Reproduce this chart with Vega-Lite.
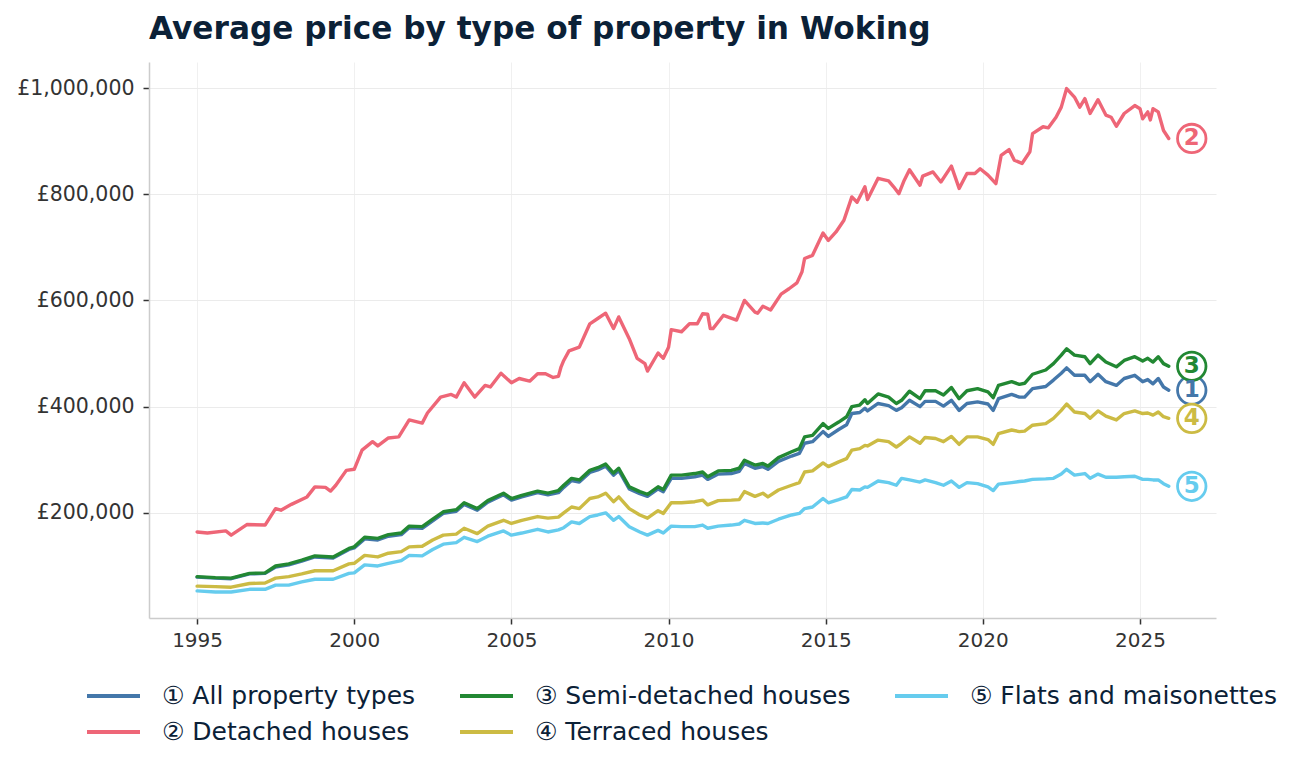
{
"$schema":"https://vega.github.io/schema/vega-lite/v6.json",
"width":1067,"height":556,
"autosize":{"type":"none"},
"padding":{"left":149,"top":62,"right":85,"bottom":152},
"background":"white",
"config":{"font":"DejaVu Sans","view":{"stroke":null}},
"title":{"text":"Average price by type of property in Woking","anchor":"start","frame":"group","fontSize":31.2,"fontWeight":"bold","color":"#0b2137","offset":17},
"datasets":{
"series":[{"k":"a","n":"1"},{"k":"d","n":"2"},{"k":"s","n":"3"},{"k":"r","n":"4"},{"k":"f","n":"5"}],
"prices":[
{"k":"a","m":"1995-01","v":79},{"k":"a","m":"1995-08","v":77},{"k":"a","m":"1996-02","v":76},{"k":"a","m":"1996-09","v":85},{"k":"a","m":"1997-03","v":86},{"k":"a","m":"1997-07","v":98},{"k":"a","m":"1997-12","v":102},{"k":"a","m":"1998-05","v":109},{"k":"a","m":"1998-10","v":117},{"k":"a","m":"1999-05","v":115},{"k":"a","m":"1999-11","v":131},{"k":"a","m":"2000-01","v":134},{"k":"a","m":"2000-05","v":151},{"k":"a","m":"2000-10","v":149},{"k":"a","m":"2001-02","v":156},{"k":"a","m":"2001-07","v":159},{"k":"a","m":"2001-10","v":172},{"k":"a","m":"2002-03","v":171},{"k":"a","m":"2002-07","v":185},{"k":"a","m":"2002-11","v":199},{"k":"a","m":"2003-04","v":203},{"k":"a","m":"2003-07","v":216},{"k":"a","m":"2003-12","v":205},{"k":"a","m":"2004-04","v":220},{"k":"a","m":"2004-10","v":234},{"k":"a","m":"2005-01","v":224},{"k":"a","m":"2005-05","v":230},{"k":"a","m":"2005-11","v":238},{"k":"a","m":"2006-03","v":234},{"k":"a","m":"2006-07","v":238},{"k":"a","m":"2006-09","v":248},{"k":"a","m":"2006-12","v":261},{"k":"a","m":"2007-03","v":258},{"k":"a","m":"2007-07","v":276},{"k":"a","m":"2007-10","v":281},{"k":"a","m":"2008-01","v":288},{"k":"a","m":"2008-04","v":271},{"k":"a","m":"2008-06","v":280},{"k":"a","m":"2008-10","v":245},{"k":"a","m":"2009-02","v":236},{"k":"a","m":"2009-05","v":231},{"k":"a","m":"2009-09","v":245},{"k":"a","m":"2009-11","v":240},{"k":"a","m":"2010-02","v":265},{"k":"a","m":"2010-06","v":265},{"k":"a","m":"2010-11","v":268},{"k":"a","m":"2011-02","v":271},{"k":"a","m":"2011-04","v":263},{"k":"a","m":"2011-08","v":273},{"k":"a","m":"2012-01","v":274},{"k":"a","m":"2012-04","v":278},{"k":"a","m":"2012-06","v":293},{"k":"a","m":"2012-10","v":284},{"k":"a","m":"2013-01","v":287},{"k":"a","m":"2013-03","v":282},{"k":"a","m":"2013-07","v":297},{"k":"a","m":"2013-12","v":307},{"k":"a","m":"2014-03","v":312},{"k":"a","m":"2014-05","v":331},{"k":"a","m":"2014-08","v":334},{"k":"a","m":"2014-12","v":353},{"k":"a","m":"2015-02","v":344},{"k":"a","m":"2015-06","v":357},{"k":"a","m":"2015-09","v":366},{"k":"a","m":"2015-11","v":387},{"k":"a","m":"2016-02","v":389},{"k":"a","m":"2016-04","v":397},{"k":"a","m":"2016-05","v":392},{"k":"a","m":"2016-09","v":406},{"k":"a","m":"2017-01","v":402},{"k":"a","m":"2017-04","v":393},{"k":"a","m":"2017-06","v":398},{"k":"a","m":"2017-09","v":412},{"k":"a","m":"2018-01","v":400},{"k":"a","m":"2018-03","v":410},{"k":"a","m":"2018-07","v":410},{"k":"a","m":"2018-10","v":401},{"k":"a","m":"2019-01","v":412},{"k":"a","m":"2019-04","v":393},{"k":"a","m":"2019-07","v":406},{"k":"a","m":"2019-11","v":409},{"k":"a","m":"2020-03","v":405},{"k":"a","m":"2020-05","v":393},{"k":"a","m":"2020-07","v":415},{"k":"a","m":"2020-12","v":423},{"k":"a","m":"2021-03","v":418},{"k":"a","m":"2021-05","v":418},{"k":"a","m":"2021-08","v":434},{"k":"a","m":"2022-01","v":438},{"k":"a","m":"2022-04","v":450},{"k":"a","m":"2022-07","v":463},{"k":"a","m":"2022-09","v":473},{"k":"a","m":"2022-12","v":459},{"k":"a","m":"2023-04","v":459},{"k":"a","m":"2023-06","v":447},{"k":"a","m":"2023-09","v":461},{"k":"a","m":"2023-12","v":447},{"k":"a","m":"2024-04","v":440},{"k":"a","m":"2024-07","v":453},{"k":"a","m":"2024-11","v":459},{"k":"a","m":"2025-02","v":447},{"k":"a","m":"2025-04","v":451},{"k":"a","m":"2025-06","v":443},{"k":"a","m":"2025-08","v":453},{"k":"a","m":"2025-10","v":437},{"k":"a","m":"2025-12","v":431},
{"k":"d","m":"1995-01","v":164},{"k":"d","m":"1995-05","v":162},{"k":"d","m":"1995-12","v":166},{"k":"d","m":"1996-02","v":158},{"k":"d","m":"1996-08","v":178},{"k":"d","m":"1997-03","v":177},{"k":"d","m":"1997-07","v":208},{"k":"d","m":"1997-09","v":205},{"k":"d","m":"1998-01","v":216},{"k":"d","m":"1998-07","v":230},{"k":"d","m":"1998-10","v":249},{"k":"d","m":"1999-02","v":248},{"k":"d","m":"1999-04","v":241},{"k":"d","m":"1999-06","v":252},{"k":"d","m":"1999-10","v":280},{"k":"d","m":"2000-01","v":282},{"k":"d","m":"2000-04","v":318},{"k":"d","m":"2000-08","v":334},{"k":"d","m":"2000-10","v":326},{"k":"d","m":"2001-02","v":341},{"k":"d","m":"2001-06","v":343},{"k":"d","m":"2001-10","v":375},{"k":"d","m":"2002-03","v":369},{"k":"d","m":"2002-05","v":388},{"k":"d","m":"2002-10","v":418},{"k":"d","m":"2003-02","v":423},{"k":"d","m":"2003-04","v":418},{"k":"d","m":"2003-07","v":445},{"k":"d","m":"2003-11","v":418},{"k":"d","m":"2004-03","v":440},{"k":"d","m":"2004-05","v":437},{"k":"d","m":"2004-09","v":463},{"k":"d","m":"2005-01","v":445},{"k":"d","m":"2005-04","v":453},{"k":"d","m":"2005-08","v":448},{"k":"d","m":"2005-11","v":462},{"k":"d","m":"2006-02","v":462},{"k":"d","m":"2006-05","v":455},{"k":"d","m":"2006-07","v":457},{"k":"d","m":"2006-08","v":475},{"k":"d","m":"2006-09","v":487},{"k":"d","m":"2006-11","v":505},{"k":"d","m":"2007-03","v":512},{"k":"d","m":"2007-07","v":556},{"k":"d","m":"2007-10","v":566},{"k":"d","m":"2008-01","v":576},{"k":"d","m":"2008-04","v":547},{"k":"d","m":"2008-06","v":569},{"k":"d","m":"2008-10","v":528},{"k":"d","m":"2009-01","v":491},{"k":"d","m":"2009-04","v":481},{"k":"d","m":"2009-05","v":467},{"k":"d","m":"2009-09","v":501},{"k":"d","m":"2009-11","v":491},{"k":"d","m":"2010-01","v":512},{"k":"d","m":"2010-02","v":545},{"k":"d","m":"2010-06","v":541},{"k":"d","m":"2010-09","v":556},{"k":"d","m":"2010-12","v":556},{"k":"d","m":"2011-02","v":575},{"k":"d","m":"2011-04","v":574},{"k":"d","m":"2011-05","v":547},{"k":"d","m":"2011-06","v":547},{"k":"d","m":"2011-10","v":572},{"k":"d","m":"2012-03","v":563},{"k":"d","m":"2012-06","v":600},{"k":"d","m":"2012-10","v":578},{"k":"d","m":"2012-11","v":576},{"k":"d","m":"2013-01","v":589},{"k":"d","m":"2013-04","v":582},{"k":"d","m":"2013-08","v":612},{"k":"d","m":"2013-11","v":622},{"k":"d","m":"2014-02","v":633},{"k":"d","m":"2014-04","v":654},{"k":"d","m":"2014-05","v":679},{"k":"d","m":"2014-08","v":685},{"k":"d","m":"2014-12","v":727},{"k":"d","m":"2015-02","v":713},{"k":"d","m":"2015-05","v":729},{"k":"d","m":"2015-08","v":751},{"k":"d","m":"2015-11","v":795},{"k":"d","m":"2016-01","v":785},{"k":"d","m":"2016-04","v":814},{"k":"d","m":"2016-05","v":790},{"k":"d","m":"2016-09","v":830},{"k":"d","m":"2017-01","v":825},{"k":"d","m":"2017-03","v":814},{"k":"d","m":"2017-05","v":801},{"k":"d","m":"2017-07","v":826},{"k":"d","m":"2017-09","v":846},{"k":"d","m":"2018-01","v":817},{"k":"d","m":"2018-02","v":834},{"k":"d","m":"2018-06","v":842},{"k":"d","m":"2018-09","v":823},{"k":"d","m":"2019-01","v":853},{"k":"d","m":"2019-04","v":811},{"k":"d","m":"2019-07","v":839},{"k":"d","m":"2019-10","v":839},{"k":"d","m":"2019-12","v":848},{"k":"d","m":"2020-03","v":836},{"k":"d","m":"2020-06","v":820},{"k":"d","m":"2020-08","v":873},{"k":"d","m":"2020-11","v":884},{"k":"d","m":"2021-01","v":864},{"k":"d","m":"2021-04","v":858},{"k":"d","m":"2021-07","v":880},{"k":"d","m":"2021-08","v":914},{"k":"d","m":"2021-12","v":927},{"k":"d","m":"2022-02","v":925},{"k":"d","m":"2022-05","v":945},{"k":"d","m":"2022-07","v":964},{"k":"d","m":"2022-09","v":999},{"k":"d","m":"2022-12","v":983},{"k":"d","m":"2023-02","v":964},{"k":"d","m":"2023-04","v":980},{"k":"d","m":"2023-06","v":952},{"k":"d","m":"2023-09","v":978},{"k":"d","m":"2023-12","v":949},{"k":"d","m":"2024-02","v":945},{"k":"d","m":"2024-04","v":928},{"k":"d","m":"2024-07","v":952},{"k":"d","m":"2024-11","v":967},{"k":"d","m":"2025-01","v":961},{"k":"d","m":"2025-02","v":942},{"k":"d","m":"2025-04","v":955},{"k":"d","m":"2025-05","v":940},{"k":"d","m":"2025-06","v":961},{"k":"d","m":"2025-08","v":955},{"k":"d","m":"2025-10","v":920},{"k":"d","m":"2025-12","v":905},
{"k":"s","m":"1995-01","v":80},{"k":"s","m":"1995-08","v":78},{"k":"s","m":"1996-02","v":77},{"k":"s","m":"1996-09","v":86},{"k":"s","m":"1997-03","v":87},{"k":"s","m":"1997-07","v":100},{"k":"s","m":"1997-12","v":104},{"k":"s","m":"1998-05","v":111},{"k":"s","m":"1998-10","v":119},{"k":"s","m":"1999-05","v":117},{"k":"s","m":"1999-11","v":133},{"k":"s","m":"2000-01","v":136},{"k":"s","m":"2000-05","v":154},{"k":"s","m":"2000-10","v":152},{"k":"s","m":"2001-02","v":159},{"k":"s","m":"2001-07","v":162},{"k":"s","m":"2001-10","v":175},{"k":"s","m":"2002-03","v":174},{"k":"s","m":"2002-07","v":188},{"k":"s","m":"2002-11","v":202},{"k":"s","m":"2003-04","v":206},{"k":"s","m":"2003-07","v":219},{"k":"s","m":"2003-12","v":208},{"k":"s","m":"2004-04","v":223},{"k":"s","m":"2004-10","v":237},{"k":"s","m":"2005-01","v":227},{"k":"s","m":"2005-05","v":233},{"k":"s","m":"2005-11","v":241},{"k":"s","m":"2006-03","v":237},{"k":"s","m":"2006-07","v":242},{"k":"s","m":"2006-09","v":252},{"k":"s","m":"2006-12","v":265},{"k":"s","m":"2007-03","v":262},{"k":"s","m":"2007-07","v":280},{"k":"s","m":"2007-10","v":285},{"k":"s","m":"2008-01","v":292},{"k":"s","m":"2008-04","v":275},{"k":"s","m":"2008-06","v":284},{"k":"s","m":"2008-10","v":249},{"k":"s","m":"2009-02","v":240},{"k":"s","m":"2009-05","v":235},{"k":"s","m":"2009-09","v":249},{"k":"s","m":"2009-11","v":244},{"k":"s","m":"2010-02","v":271},{"k":"s","m":"2010-06","v":271},{"k":"s","m":"2010-11","v":274},{"k":"s","m":"2011-02","v":277},{"k":"s","m":"2011-04","v":268},{"k":"s","m":"2011-08","v":279},{"k":"s","m":"2012-01","v":280},{"k":"s","m":"2012-04","v":284},{"k":"s","m":"2012-06","v":299},{"k":"s","m":"2012-10","v":290},{"k":"s","m":"2013-01","v":293},{"k":"s","m":"2013-03","v":288},{"k":"s","m":"2013-07","v":304},{"k":"s","m":"2013-12","v":315},{"k":"s","m":"2014-03","v":321},{"k":"s","m":"2014-05","v":343},{"k":"s","m":"2014-08","v":346},{"k":"s","m":"2014-12","v":368},{"k":"s","m":"2015-02","v":359},{"k":"s","m":"2015-06","v":371},{"k":"s","m":"2015-09","v":381},{"k":"s","m":"2015-11","v":400},{"k":"s","m":"2016-02","v":403},{"k":"s","m":"2016-04","v":413},{"k":"s","m":"2016-05","v":406},{"k":"s","m":"2016-09","v":424},{"k":"s","m":"2017-01","v":418},{"k":"s","m":"2017-04","v":406},{"k":"s","m":"2017-06","v":412},{"k":"s","m":"2017-09","v":429},{"k":"s","m":"2018-01","v":415},{"k":"s","m":"2018-03","v":430},{"k":"s","m":"2018-07","v":430},{"k":"s","m":"2018-10","v":422},{"k":"s","m":"2019-01","v":436},{"k":"s","m":"2019-04","v":415},{"k":"s","m":"2019-07","v":430},{"k":"s","m":"2019-11","v":434},{"k":"s","m":"2020-03","v":428},{"k":"s","m":"2020-05","v":417},{"k":"s","m":"2020-07","v":440},{"k":"s","m":"2020-12","v":447},{"k":"s","m":"2021-03","v":442},{"k":"s","m":"2021-05","v":444},{"k":"s","m":"2021-08","v":461},{"k":"s","m":"2022-01","v":469},{"k":"s","m":"2022-04","v":481},{"k":"s","m":"2022-07","v":497},{"k":"s","m":"2022-09","v":509},{"k":"s","m":"2022-12","v":497},{"k":"s","m":"2023-04","v":494},{"k":"s","m":"2023-06","v":481},{"k":"s","m":"2023-09","v":497},{"k":"s","m":"2023-12","v":484},{"k":"s","m":"2024-04","v":475},{"k":"s","m":"2024-07","v":487},{"k":"s","m":"2024-11","v":494},{"k":"s","m":"2025-02","v":486},{"k":"s","m":"2025-04","v":491},{"k":"s","m":"2025-06","v":484},{"k":"s","m":"2025-08","v":494},{"k":"s","m":"2025-10","v":481},{"k":"s","m":"2025-12","v":476},
{"k":"r","m":"1995-01","v":62},{"k":"r","m":"1995-08","v":61},{"k":"r","m":"1996-02","v":60},{"k":"r","m":"1996-09","v":67},{"k":"r","m":"1997-03","v":68},{"k":"r","m":"1997-07","v":77},{"k":"r","m":"1997-12","v":80},{"k":"r","m":"1998-05","v":85},{"k":"r","m":"1998-10","v":91},{"k":"r","m":"1999-05","v":91},{"k":"r","m":"1999-11","v":104},{"k":"r","m":"2000-01","v":105},{"k":"r","m":"2000-05","v":120},{"k":"r","m":"2000-10","v":117},{"k":"r","m":"2001-02","v":124},{"k":"r","m":"2001-07","v":127},{"k":"r","m":"2001-10","v":136},{"k":"r","m":"2002-03","v":137},{"k":"r","m":"2002-07","v":149},{"k":"r","m":"2002-11","v":158},{"k":"r","m":"2003-04","v":160},{"k":"r","m":"2003-07","v":171},{"k":"r","m":"2003-12","v":161},{"k":"r","m":"2004-04","v":175},{"k":"r","m":"2004-10","v":186},{"k":"r","m":"2005-01","v":180},{"k":"r","m":"2005-05","v":186},{"k":"r","m":"2005-11","v":193},{"k":"r","m":"2006-03","v":190},{"k":"r","m":"2006-07","v":192},{"k":"r","m":"2006-09","v":200},{"k":"r","m":"2006-12","v":211},{"k":"r","m":"2007-03","v":208},{"k":"r","m":"2007-07","v":227},{"k":"r","m":"2007-10","v":230},{"k":"r","m":"2008-01","v":237},{"k":"r","m":"2008-04","v":221},{"k":"r","m":"2008-06","v":230},{"k":"r","m":"2008-10","v":208},{"k":"r","m":"2009-02","v":196},{"k":"r","m":"2009-05","v":190},{"k":"r","m":"2009-09","v":204},{"k":"r","m":"2009-11","v":199},{"k":"r","m":"2010-02","v":219},{"k":"r","m":"2010-06","v":219},{"k":"r","m":"2010-11","v":221},{"k":"r","m":"2011-02","v":224},{"k":"r","m":"2011-04","v":215},{"k":"r","m":"2011-08","v":223},{"k":"r","m":"2012-01","v":224},{"k":"r","m":"2012-04","v":225},{"k":"r","m":"2012-06","v":240},{"k":"r","m":"2012-10","v":231},{"k":"r","m":"2013-01","v":237},{"k":"r","m":"2013-03","v":230},{"k":"r","m":"2013-07","v":243},{"k":"r","m":"2013-12","v":252},{"k":"r","m":"2014-03","v":257},{"k":"r","m":"2014-05","v":277},{"k":"r","m":"2014-08","v":279},{"k":"r","m":"2014-12","v":294},{"k":"r","m":"2015-02","v":287},{"k":"r","m":"2015-06","v":296},{"k":"r","m":"2015-09","v":302},{"k":"r","m":"2015-11","v":318},{"k":"r","m":"2016-02","v":321},{"k":"r","m":"2016-04","v":327},{"k":"r","m":"2016-05","v":326},{"k":"r","m":"2016-09","v":337},{"k":"r","m":"2017-01","v":334},{"k":"r","m":"2017-04","v":324},{"k":"r","m":"2017-06","v":331},{"k":"r","m":"2017-09","v":343},{"k":"r","m":"2018-01","v":331},{"k":"r","m":"2018-03","v":342},{"k":"r","m":"2018-07","v":340},{"k":"r","m":"2018-10","v":334},{"k":"r","m":"2019-01","v":344},{"k":"r","m":"2019-04","v":329},{"k":"r","m":"2019-07","v":343},{"k":"r","m":"2019-11","v":343},{"k":"r","m":"2020-03","v":338},{"k":"r","m":"2020-05","v":329},{"k":"r","m":"2020-07","v":349},{"k":"r","m":"2020-12","v":356},{"k":"r","m":"2021-03","v":353},{"k":"r","m":"2021-05","v":354},{"k":"r","m":"2021-08","v":365},{"k":"r","m":"2022-01","v":368},{"k":"r","m":"2022-04","v":378},{"k":"r","m":"2022-07","v":393},{"k":"r","m":"2022-09","v":405},{"k":"r","m":"2022-12","v":390},{"k":"r","m":"2023-04","v":387},{"k":"r","m":"2023-06","v":378},{"k":"r","m":"2023-09","v":392},{"k":"r","m":"2023-12","v":382},{"k":"r","m":"2024-04","v":375},{"k":"r","m":"2024-07","v":387},{"k":"r","m":"2024-11","v":392},{"k":"r","m":"2025-02","v":387},{"k":"r","m":"2025-04","v":388},{"k":"r","m":"2025-06","v":384},{"k":"r","m":"2025-08","v":390},{"k":"r","m":"2025-10","v":381},{"k":"r","m":"2025-12","v":378},
{"k":"f","m":"1995-01","v":53},{"k":"f","m":"1995-08","v":51},{"k":"f","m":"1996-02","v":51},{"k":"f","m":"1996-09","v":56},{"k":"f","m":"1997-03","v":56},{"k":"f","m":"1997-07","v":64},{"k":"f","m":"1997-12","v":64},{"k":"f","m":"1998-05","v":70},{"k":"f","m":"1998-10","v":75},{"k":"f","m":"1999-05","v":75},{"k":"f","m":"1999-11","v":86},{"k":"f","m":"2000-01","v":87},{"k":"f","m":"2000-05","v":102},{"k":"f","m":"2000-10","v":100},{"k":"f","m":"2001-02","v":105},{"k":"f","m":"2001-07","v":110},{"k":"f","m":"2001-10","v":120},{"k":"f","m":"2002-03","v":119},{"k":"f","m":"2002-07","v":131},{"k":"f","m":"2002-11","v":141},{"k":"f","m":"2003-04","v":144},{"k":"f","m":"2003-07","v":154},{"k":"f","m":"2003-12","v":146},{"k":"f","m":"2004-04","v":156},{"k":"f","m":"2004-10","v":166},{"k":"f","m":"2005-01","v":158},{"k":"f","m":"2005-05","v":162},{"k":"f","m":"2005-11","v":169},{"k":"f","m":"2006-03","v":164},{"k":"f","m":"2006-07","v":168},{"k":"f","m":"2006-09","v":172},{"k":"f","m":"2006-12","v":183},{"k":"f","m":"2007-03","v":180},{"k":"f","m":"2007-07","v":193},{"k":"f","m":"2007-10","v":196},{"k":"f","m":"2008-01","v":200},{"k":"f","m":"2008-04","v":186},{"k":"f","m":"2008-06","v":193},{"k":"f","m":"2008-10","v":174},{"k":"f","m":"2009-02","v":164},{"k":"f","m":"2009-05","v":158},{"k":"f","m":"2009-09","v":167},{"k":"f","m":"2009-11","v":162},{"k":"f","m":"2010-02","v":175},{"k":"f","m":"2010-06","v":174},{"k":"f","m":"2010-11","v":174},{"k":"f","m":"2011-02","v":177},{"k":"f","m":"2011-04","v":171},{"k":"f","m":"2011-08","v":175},{"k":"f","m":"2012-01","v":177},{"k":"f","m":"2012-04","v":179},{"k":"f","m":"2012-06","v":186},{"k":"f","m":"2012-10","v":180},{"k":"f","m":"2013-01","v":181},{"k":"f","m":"2013-03","v":180},{"k":"f","m":"2013-07","v":188},{"k":"f","m":"2013-12","v":196},{"k":"f","m":"2014-03","v":199},{"k":"f","m":"2014-05","v":208},{"k":"f","m":"2014-08","v":211},{"k":"f","m":"2014-12","v":227},{"k":"f","m":"2015-02","v":219},{"k":"f","m":"2015-06","v":225},{"k":"f","m":"2015-09","v":230},{"k":"f","m":"2015-11","v":244},{"k":"f","m":"2016-02","v":243},{"k":"f","m":"2016-04","v":249},{"k":"f","m":"2016-05","v":248},{"k":"f","m":"2016-09","v":260},{"k":"f","m":"2017-01","v":257},{"k":"f","m":"2017-04","v":252},{"k":"f","m":"2017-06","v":265},{"k":"f","m":"2017-09","v":262},{"k":"f","m":"2018-01","v":258},{"k":"f","m":"2018-03","v":262},{"k":"f","m":"2018-07","v":257},{"k":"f","m":"2018-10","v":252},{"k":"f","m":"2019-01","v":260},{"k":"f","m":"2019-04","v":248},{"k":"f","m":"2019-07","v":257},{"k":"f","m":"2019-11","v":255},{"k":"f","m":"2020-03","v":249},{"k":"f","m":"2020-05","v":242},{"k":"f","m":"2020-07","v":254},{"k":"f","m":"2020-12","v":257},{"k":"f","m":"2021-03","v":259},{"k":"f","m":"2021-05","v":260},{"k":"f","m":"2021-08","v":263},{"k":"f","m":"2022-01","v":264},{"k":"f","m":"2022-04","v":265},{"k":"f","m":"2022-07","v":273},{"k":"f","m":"2022-09","v":282},{"k":"f","m":"2022-12","v":271},{"k":"f","m":"2023-04","v":274},{"k":"f","m":"2023-06","v":265},{"k":"f","m":"2023-09","v":273},{"k":"f","m":"2023-12","v":267},{"k":"f","m":"2024-04","v":267},{"k":"f","m":"2024-07","v":268},{"k":"f","m":"2024-11","v":269},{"k":"f","m":"2025-02","v":263},{"k":"f","m":"2025-04","v":263},{"k":"f","m":"2025-06","v":262},{"k":"f","m":"2025-08","v":262},{"k":"f","m":"2025-10","v":255},{"k":"f","m":"2025-12","v":250}
]},
"data":{"name":"prices"},
"transform":[{"lookup":"k","from":{"data":{"name":"series"},"key":"k","fields":["n"]}}],
"encoding":{
"x":{"field":"m","type":"temporal","scale":{"type":"utc","domain":[{"year":1993,"month":6,"date":21,"utc":true},{"year":2027,"month":6,"date":3,"utc":true}]},
"axis":{"title":null,"values":[{"year":1995,"utc":true},{"year":2000,"utc":true},{"year":2005,"utc":true},{"year":2010,"utc":true},{"year":2015,"utc":true},{"year":2020,"utc":true},{"year":2025,"utc":true}],"format":"%Y","labelFontSize":20,"labelColor":"#333333","tickColor":"#333333","tickSize":6,"tickWidth":1.5,"labelPadding":6,"domainColor":"#cccccc","domainWidth":1.5,"gridColor":"#f0f0f0","gridWidth":1}},
"y":{"field":"v","type":"quantitative","scale":{"domain":[2,1049],"nice":false,"zero":false},
"axis":{"title":null,"values":[200,400,600,800,1000],"labelExpr":"'£' + format(datum.value*1000, ',')","labelFontSize":20.5,"labelColor":"#333333","tickColor":"#333333","tickSize":6,"tickWidth":1.5,"labelPadding":9,"domainColor":"#cccccc","domainWidth":1.5,"gridColor":"#ebebeb","gridWidth":1}}
},
"layer":[
{"mark":{"type":"line","strokeWidth":3.4,"strokeJoin":"round","strokeCap":"round"},
"encoding":{"color":{"field":"k","type":"nominal","scale":{"domain":["a","s","f","d","r"],"range":["#4477AA","#228833","#66CCEE","#EE6677","#CCBB44"]},
"legend":{"title":null,"orient":"none","legendX":-64,"legendY":616,"direction":"horizontal","columns":3,"symbolType":"stroke","symbolStrokeWidth":4,"symbolSize":2809,"labelFontSize":25,"labelColor":"#0b2137","labelLimit":0,"columnPadding":42,"rowPadding":0,"clipHeight":36,"labelOffset":20,
"labelExpr":"datum.value == 'a' ? '① All property types' : datum.value == 'd' ? '② Detached houses' : datum.value == 's' ? '③ Semi-detached houses' : datum.value == 'r' ? '④ Terraced houses' : '⑤ Flats and maisonettes'"}}}},
{"transform":[{"filter":"utcyear(datum.m) == 2025 && utcmonth(datum.m) == 11"}],
"mark":{"type":"point","shape":"circle","filled":true,"fill":"white","size":810,"strokeWidth":2.8,"xOffset":23,"opacity":1},
"encoding":{"stroke":{"field":"k","type":"nominal","scale":{"domain":["a","s","f","d","r"],"range":["#4477AA","#228833","#66CCEE","#EE6677","#CCBB44"]},"legend":null}}},
{"transform":[{"filter":"utcyear(datum.m) == 2025 && utcmonth(datum.m) == 11"}],
"mark":{"type":"text","fontSize":23,"fontWeight":"bold","xOffset":23,"align":"center","baseline":"middle"},
"encoding":{"text":{"field":"n"},"fill":{"field":"k","type":"nominal","scale":{"domain":["a","s","f","d","r"],"range":["#4477AA","#228833","#66CCEE","#EE6677","#CCBB44"]},"legend":null}}}
]
}
